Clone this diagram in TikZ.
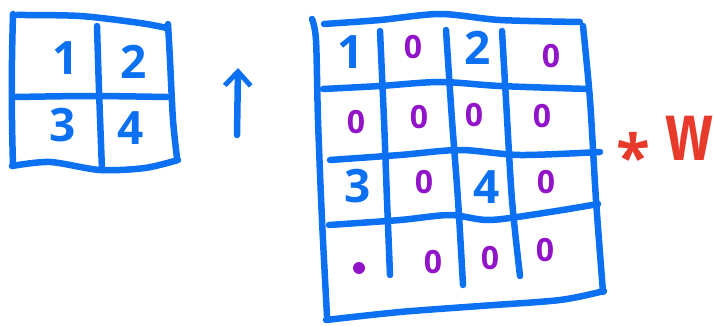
\documentclass[tikz,border=0pt]{standalone}
\usepackage{fontspec}
\setmainfont{Open Sans}
\usetikzlibrary{arrows.meta}
\definecolor{pen}{RGB}{12,112,242}
\definecolor{zer}{RGB}{146,20,200}
\definecolor{redpen}{RGB}{232,58,42}
\tikzset{
  stroke/.style={draw=pen,line width=6.5pt,line cap=round,line join=round},
  dig/.style={text=pen,font=\fontsize{46}{46}\selectfont\bfseries,inner sep=0pt},
  zero/.style={text=zer,font=\fontsize{32}{32}\selectfont\bfseries,inner sep=0pt},
  redtxt/.style={text=redpen,inner sep=0pt},
}
\begin{document}
\begin{tikzpicture}[x=1pt,y=-1pt]
\useasboundingbox (0,0) rectangle (714,326);
% small grid
\draw[stroke] plot[smooth] coordinates {(13,14) (12,60) (12,120) (13,166)};
\draw[stroke] plot[smooth] coordinates {(17,15) (80,16) (140,23) (167,28)};
\draw[stroke] plot[smooth] coordinates {(168,24) (170,60) (173,120) (177,158)};
\draw[stroke] plot[smooth] coordinates {(12,166) (50,162) (100,170) (145,168) (178,160)};
\draw[stroke] plot[smooth] coordinates {(97,26) (99,90) (102,170)};
\draw[stroke] plot[smooth] coordinates {(16,97) (90,96) (167,97)};
\node[dig] (s1) at (66,58) {1};
\node[dig] (s2) at (134,62) {2};
\node[dig] (s3) at (63,125) {3};
\node[dig] (s4) at (131,128) {4};
% arrow
\coordinate (a0) at (237,135);
\coordinate (a1) at (238,68);
\draw[stroke,-{Straight Barb[length=14pt,width=26pt,line width=5pt]}] (a0) -- (a1);
% big grid
\draw[stroke] plot[smooth] coordinates {(312,19) (316,40) (318,120) (322,220) (327,316)};
\draw[stroke] plot[smooth] coordinates {(324,24) (380,20) (440,14) (500,20) (580,22)};
\draw[stroke] plot[smooth] coordinates {(583,26) (590,100) (596,200) (603,292)};
\draw[stroke] plot[smooth] coordinates {(326,320) (400,312) (480,306) (560,300) (604,291)};
\draw[stroke] plot[smooth] coordinates {(323,89) (380,86) (440,82) (500,86) (588,89)};
\draw[stroke] plot[smooth] coordinates {(330,160) (400,155) (460,150) (520,155) (600,152)};
\draw[stroke] plot[smooth] coordinates {(329,225) (400,220) (450,215) (490,220) (550,212) (598,204)};
\draw[stroke] plot[smooth] coordinates {(380,31) (384,120) (387,200) (390,275)};
\draw[stroke] plot[smooth] coordinates {(446,30) (452,120) (458,200) (463,285)};
\draw[stroke] plot[smooth] coordinates {(502,31) (506,100) (512,200) (520,276)};
\node[dig] (b1) at (351,52) {1};
\node[zero] (z12) at (413,47) {0};
\node[dig] (b2) at (478,48) {2};
\node[zero] (z14) at (551,56) {0};
\node[zero] (z21) at (356,122) {0};
\node[zero] (z22) at (419,117) {0};
\node[zero] (z23) at (474,115) {0};
\node[zero] (z24) at (542,116) {0};
\node[dig] (b3) at (358,186) {3};
\node[zero] (z32) at (424,182) {0};
\node[dig] (b4) at (487,187) {4};
\node[zero] (z34) at (546,182) {0};
\node[circle,fill=zer,minimum size=12pt,inner sep=0pt] (z41) at (359,268) {};
\node[zero] (z42) at (433,262) {0};
\node[zero] (z43) at (490,258) {0};
\node[zero] (z44) at (545,250) {0};
% times w
\node[redtxt,font=\fontsize{62}{62}\selectfont\bfseries] (star) at (633,156) {*};
\node[redtxt,font=\fontsize{56}{56}\selectfont\bfseries] (w) at (689,138) {\scalebox{1}[1.45]{w}};
\end{tikzpicture}
\end{document}
